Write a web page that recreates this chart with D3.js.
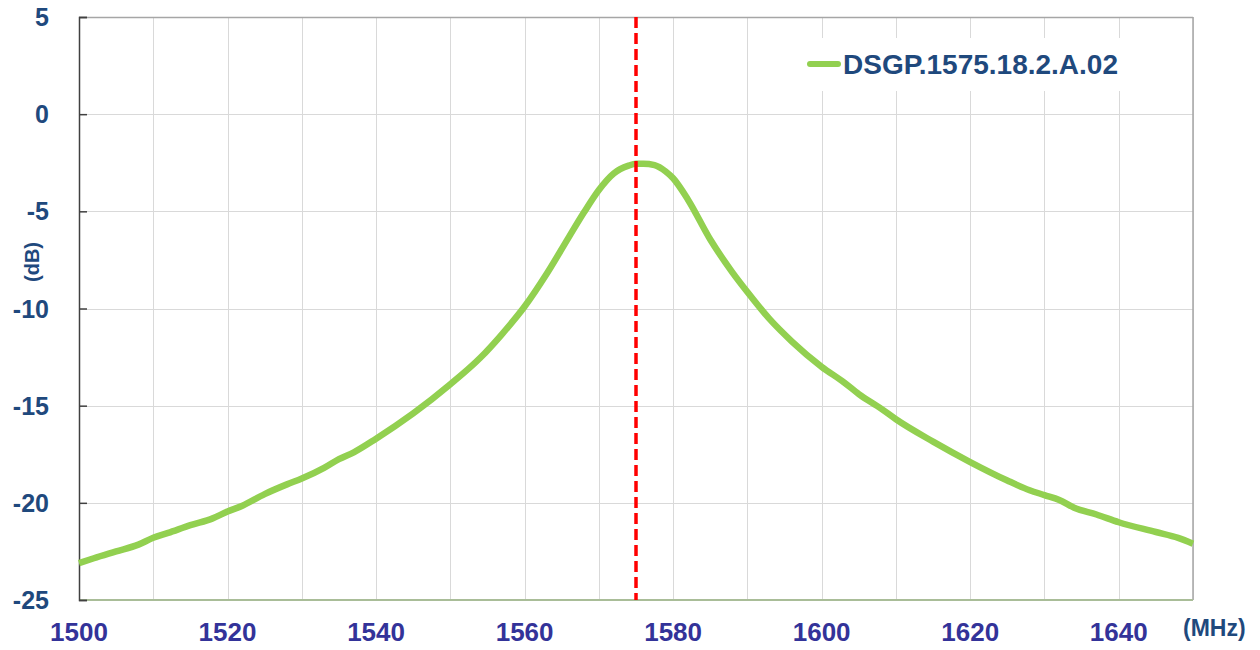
<!DOCTYPE html>
<html lang="en">
<head>
    <meta charset="UTF-8">
    <title>DSGP.1575.18.2.A.02 response</title>
    <script src="https://d3js.org/d3.v7.min.js"></script>
    <style>
        body {
            margin: 0;
            background: #fff;
        }
        .grid line {
            stroke: #d9d9d9;
            stroke-width: 1;
            shape-rendering: crispEdges;
        }
        .grid path {
            display: none;
        }
        .ylabel, .xlabel, .legend-text {
            font-family: "Liberation Sans", Arial, sans-serif;
            font-weight: bold;
        }
    </style>
</head>
<body>
    <script>
        // values (MHz, dB)
        const freq = [1500, 1502, 1505, 1508, 1510, 1512, 1515, 1518, 1520, 1522, 1525, 1528, 1530, 1533, 1535, 1537, 1540,
                      1545, 1550, 1554, 1557, 1560, 1563, 1566, 1568, 1570, 1572, 1574, 1575, 1576, 1577.5, 1579, 1580,
                      1582, 1585, 1588, 1590, 1593, 1596, 1600, 1603, 1605, 1608, 1610, 1615, 1620, 1625, 1628, 1630,
                      1632, 1634, 1637, 1640, 1645, 1648, 1650];
        const gain = [-23.1, -22.85, -22.5, -22.15, -21.8, -21.55, -21.15, -20.8, -20.45, -20.15, -19.55, -19.05, -18.75, -18.2, -17.75, -17.4, -16.7,
                      -15.4, -13.9, -12.55, -11.3, -9.9, -8.2, -6.3, -5.05, -3.9, -3.05, -2.65, -2.55, -2.55, -2.62, -2.95, -3.3,
                      -4.4, -6.45, -8.15, -9.15, -10.55, -11.7, -13.0, -13.8, -14.4, -15.15, -15.7, -16.85, -17.9, -18.85, -19.35, -19.6,
                      -19.85, -20.25, -20.6, -21.0, -21.5, -21.8, -22.1];
        const seriesName = 'DSGP.1575.18.2.A.02';
        const centerFreq = 1575;
        const xTicks = [1500, 1520, 1540, 1560, 1580, 1600, 1620, 1640];
        const xGrid = d3.range(1500, 1651, 10);
        const yTicks = [5, 0, -5, -10, -15, -20, -25];

        const margin = {top: 17, right: 67, bottom: 50, left: 79};
        const width = 1260 - margin.left - margin.right;
        const height = 650 - margin.top - margin.bottom;

        const svgRoot = d3.select('body')
                          .append('svg')
                          .attr('width', 1260)
                          .attr('height', 650);

        const svg = svgRoot.append('g')
                           .attr('transform', `translate(${margin.left},${margin.top})`);

        const xScale = d3.scaleLinear()
                         .domain([1500, 1650])
                         .range([0, width]);

        const yScale = d3.scaleLinear()
                         .domain([5, -25])
                         .range([0, height]);

        // gridlines
        svg.append('g')
           .attr('class', 'grid')
           .attr('transform', `translate(0,${height})`)
           .call(d3.axisBottom(xScale).tickValues(xGrid).tickSize(-height).tickFormat(''));

        svg.append('g')
           .attr('class', 'grid')
           .call(d3.axisLeft(yScale).tickValues(yTicks).tickSize(-width).tickFormat(''));

        // frame: top and right gray, bottom greenish, left dark
        svg.append('line').attr('x1', 0).attr('x2', width).attr('y1', 0.5).attr('y2', 0.5)
           .attr('stroke', '#a6a6a6').attr('stroke-width', 1.5);
        svg.append('line').attr('x1', width).attr('x2', width).attr('y1', 0).attr('y2', height)
           .attr('stroke', '#a6a6a6').attr('stroke-width', 1.5);
        svg.append('line').attr('x1', 0).attr('x2', width).attr('y1', height).attr('y2', height)
           .attr('stroke', '#a9bd98').attr('stroke-width', 2);

        const yAxis = svg.append('g')
           .call(d3.axisLeft(yScale).tickValues(yTicks).tickSize(-8).tickFormat(''));
        yAxis.select('.domain').attr('stroke', '#404040').attr('stroke-width', 1.5);
        yAxis.selectAll('.tick line').attr('stroke', '#404040').attr('stroke-width', 1.5);

        // tick labels
        svg.selectAll('.ylabel')
           .data(yTicks)
           .enter().append('text')
           .attr('class', 'ylabel')
           .attr('x', -30)
           .attr('y', d => yScale(d))
           .attr('dy', '0.36em')
           .attr('text-anchor', 'end')
           .attr('fill', '#1f497d')
           .style('font-size', '25px')
           .text(d => d);

        svg.selectAll('.xlabel')
           .data(xTicks)
           .enter().append('text')
           .attr('class', 'xlabel')
           .attr('x', d => xScale(d))
           .attr('y', height + 41)
           .attr('text-anchor', 'middle')
           .attr('fill', '#333399')
           .style('font-size', '26px')
           .text(d => d);

        // units
        svgRoot.append('text')
           .attr('class', 'ylabel')
           .attr('transform', 'translate(39,262) rotate(-90)')
           .attr('text-anchor', 'middle')
           .attr('fill', '#1f497d')
           .style('font-size', '20px')
           .text('(dB)');

        svgRoot.append('text')
           .attr('class', 'ylabel')
           .attr('x', 1183)
           .attr('y', 636)
           .attr('fill', '#1f497d')
           .style('font-size', '23px')
           .text('(MHz)');

        // response curve
        const data = freq.map((f, i) => ({f: f, g: gain[i]}));

        svg.append('path')
           .datum(data)
           .attr('fill', 'none')
           .attr('stroke', '#92d050')
           .attr('stroke-width', 6.5)
           .attr('stroke-linejoin', 'round')
           .attr('d', d3.line()
               .x(d => xScale(d.f))
               .y(d => yScale(d.g))
               .curve(d3.curveMonotoneX));

        // center frequency marker
        svg.append('line')
           .attr('x1', xScale(centerFreq))
           .attr('x2', xScale(centerFreq))
           .attr('y1', 0)
           .attr('y2', height)
           .attr('stroke', '#ff0000')
           .attr('stroke-width', 3.5)
           .attr('stroke-dasharray', '11,5');

        // legend
        const legend = svgRoot.append('g');
        legend.append('rect')
              .attr('x', 800).attr('y', 38)
              .attr('width', 360).attr('height', 53)
              .attr('fill', '#fff');
        legend.append('line')
              .attr('x1', 810).attr('x2', 838)
              .attr('y1', 64).attr('y2', 64)
              .attr('stroke', '#92d050')
              .attr('stroke-width', 6)
              .attr('stroke-linecap', 'round');
        legend.append('text')
              .attr('class', 'legend-text')
              .attr('x', 843)
              .attr('y', 74)
              .attr('fill', '#1f497d')
              .style('font-size', '28px')
              .text(seriesName);
    </script>
</body>
</html>
